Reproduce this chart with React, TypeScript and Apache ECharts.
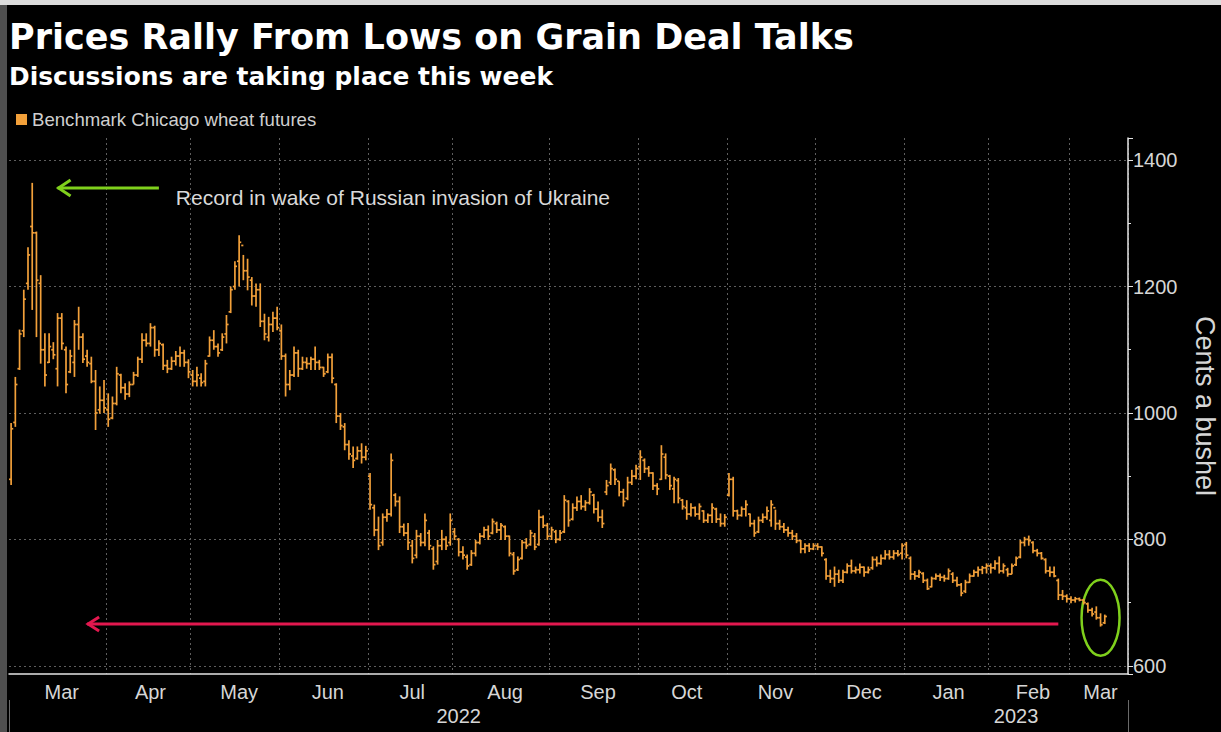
import React, { useEffect, useRef } from 'react';
import * as echarts from 'echarts';

const TITLE = 'Prices Rally From Lows on Grain Deal Talks';
const SUBTITLE = 'Discussions are taking place this week';
const SERIES_NAME = 'Benchmark Chicago wheat futures';
const Y_NAME = 'Cents a bushel';
const NOTE = 'Record in wake of Russian invasion of Ukraine';
const MONTHS = ['Jan', 'Feb', 'Mar', 'Apr', 'May', 'Jun', 'Jul', 'Aug', 'Sep', 'Oct', 'Nov', 'Dec'];

// exchange holidays skipped by the trading-day axis
const HOLIDAYS = ['2022-04-15', '2022-05-30', '2022-06-20', '2022-07-04', '2022-09-05', '2022-11-24', '2022-12-26', '2023-01-02', '2023-01-16', '2023-02-20'];

// daily bars: [open, close, low, high], cents a bushel
const mar22 = [[895, 975, 886, 984], [985, 1045, 978, 1057], [1070, 1125, 1068, 1132], [1130, 1180, 1120, 1195], [1205, 1250, 1195, 1262], [1295, 1285, 1163, 1364], [1285, 1210, 1120, 1287], [1205, 1100, 1078, 1218], [1100, 1060, 1042, 1126], [1080, 1105, 1079, 1126], [1100, 1092, 1085, 1112], [1070, 1150, 1042, 1158], [1150, 1110, 1100, 1158], [1100, 1045, 1031, 1105], [1065, 1090, 1063, 1100], [1080, 1140, 1057, 1147], [1140, 1120, 1100, 1168], [1120, 1085, 1079, 1126], [1090, 1080, 1073, 1100], [1078, 1050, 1047, 1089], [1050, 1000, 973, 1068], [1005, 1020, 999, 1042], [1020, 1008, 1000, 1052]];
const apr22 = [[1005, 990, 978, 1031], [992, 1015, 990, 1026], [1015, 1062, 1012, 1073], [1060, 1040, 1031, 1062], [1040, 1030, 1021, 1047], [1030, 1045, 1025, 1050], [1045, 1060, 1045, 1065], [1060, 1085, 1057, 1089], [1085, 1115, 1079, 1126], [1115, 1110, 1105, 1126], [1110, 1135, 1105, 1142], [1135, 1100, 1089, 1138], [1100, 1110, 1090, 1115], [1108, 1075, 1068, 1110], [1075, 1070, 1063, 1084], [1070, 1082, 1068, 1089], [1082, 1090, 1075, 1098], [1090, 1095, 1073, 1105], [1095, 1080, 1073, 1100], [1080, 1065, 1055, 1085]];
const may22 = [[1060, 1050, 1042, 1068], [1050, 1060, 1042, 1073], [1055, 1048, 1042, 1063], [1050, 1078, 1042, 1084], [1090, 1115, 1089, 1121], [1115, 1105, 1100, 1131], [1105, 1095, 1089, 1110], [1100, 1120, 1098, 1126], [1125, 1140, 1110, 1155], [1160, 1195, 1158, 1200], [1200, 1232, 1195, 1240], [1240, 1270, 1200, 1281], [1265, 1225, 1210, 1250], [1225, 1215, 1194, 1244], [1210, 1185, 1170, 1215], [1185, 1195, 1168, 1205], [1195, 1145, 1136, 1205], [1145, 1125, 1115, 1157], [1120, 1140, 1113, 1152], [1140, 1150, 1128, 1160], [1150, 1135, 1131, 1168]];
const jun22 = [[1130, 1090, 1084, 1140], [1090, 1045, 1026, 1094], [1045, 1060, 1036, 1068], [1060, 1095, 1057, 1105], [1095, 1070, 1057, 1100], [1070, 1080, 1068, 1089], [1080, 1078, 1070, 1088], [1078, 1085, 1068, 1089], [1085, 1080, 1068, 1105], [1080, 1072, 1068, 1084], [1072, 1062, 1057, 1073], [1065, 1088, 1063, 1094], [1088, 1055, 1047, 1094], [1045, 995, 984, 1047], [995, 980, 973, 1000], [978, 950, 941, 984], [950, 935, 926, 957], [932, 925, 913, 947], [928, 940, 926, 947], [940, 930, 920, 952], [930, 940, 925, 948]];
const jul22 = [[900, 855, 847, 905], [850, 815, 805, 855], [815, 790, 783, 836], [795, 835, 790, 841], [835, 840, 828, 848], [840, 925, 836, 936], [870, 860, 852, 873], [860, 820, 810, 868], [820, 810, 805, 825], [810, 795, 783, 826], [790, 770, 762, 799], [775, 805, 770, 815], [805, 795, 789, 810], [795, 830, 789, 841], [810, 790, 783, 815], [785, 760, 752, 789], [765, 790, 760, 799], [790, 800, 783, 815], [800, 790, 783, 805], [795, 830, 790, 841]];
const aug22 = [[812, 805, 799, 818], [800, 780, 773, 802], [780, 775, 768, 789], [772, 758, 752, 776], [760, 778, 758, 783], [778, 795, 773, 799], [795, 805, 792, 810], [805, 815, 802, 820], [815, 805, 799, 822], [810, 828, 808, 833], [825, 815, 810, 828], [815, 822, 799, 826], [820, 805, 799, 822], [805, 778, 773, 806], [776, 750, 744, 780], [752, 768, 750, 773], [770, 795, 768, 799], [795, 790, 785, 802], [792, 810, 790, 815], [805, 788, 783, 810], [792, 835, 790, 847], [835, 822, 818, 838], [822, 805, 799, 826]];
const sep22 = [[805, 815, 799, 820], [812, 800, 794, 815], [800, 810, 798, 815], [812, 862, 810, 870], [860, 830, 820, 862], [832, 850, 830, 857], [850, 860, 845, 868], [860, 852, 847, 870], [852, 858, 845, 862], [858, 875, 855, 881], [870, 848, 841, 872], [848, 835, 828, 860], [835, 825, 818, 847], [875, 885, 870, 894], [890, 912, 886, 920], [910, 895, 886, 912], [892, 875, 868, 892], [875, 860, 852, 880], [865, 890, 862, 899], [890, 900, 886, 910], [900, 912, 895, 918]];
const oct22 = [[915, 930, 894, 941], [925, 912, 905, 928], [912, 905, 899, 916], [905, 885, 878, 906], [885, 880, 870, 889], [895, 935, 894, 949], [930, 902, 895, 936], [900, 885, 878, 902], [880, 895, 857, 899], [893, 865, 857, 897], [862, 852, 847, 864], [850, 840, 831, 862], [840, 850, 836, 857], [850, 840, 836, 852], [840, 852, 831, 857], [845, 830, 826, 846], [830, 838, 826, 841], [838, 850, 826, 857], [848, 832, 826, 850], [832, 825, 820, 841], [825, 835, 820, 840]];
const nov22 = [[870, 895, 868, 905], [895, 845, 836, 899], [845, 838, 831, 847], [838, 848, 836, 852], [848, 855, 836, 862], [840, 825, 820, 841], [825, 810, 804, 831], [812, 830, 810, 836], [830, 835, 826, 841], [835, 845, 831, 852], [830, 855, 820, 862], [850, 825, 815, 847], [825, 820, 815, 831], [820, 815, 810, 826], [815, 810, 804, 820], [810, 805, 799, 815], [805, 798, 794, 810], [798, 785, 778, 799], [785, 790, 778, 794], [790, 785, 780, 794], [785, 790, 783, 794]];
const dec22 = [[790, 788, 783, 794], [788, 778, 773, 789], [768, 742, 736, 770], [742, 738, 731, 752], [738, 745, 725, 757], [745, 735, 731, 752], [735, 748, 731, 752], [748, 758, 746, 762], [758, 750, 746, 768], [750, 752, 746, 757], [752, 756, 746, 762], [756, 748, 741, 757], [748, 752, 746, 757], [755, 768, 752, 773], [768, 762, 757, 773], [762, 770, 760, 776], [770, 776, 768, 783], [776, 772, 768, 783], [772, 778, 768, 783], [778, 776, 773, 783], [778, 790, 768, 794]];
const jan23 = [[792, 775, 770, 796], [770, 745, 736, 773], [745, 742, 736, 750], [742, 748, 739, 752], [746, 735, 731, 748], [735, 722, 720, 738], [725, 738, 724, 741], [738, 742, 736, 746], [742, 740, 734, 746], [740, 738, 733, 744], [738, 750, 736, 754], [745, 735, 731, 748], [735, 728, 725, 741], [728, 715, 710, 731], [718, 732, 715, 736], [732, 742, 731, 746], [742, 748, 741, 752], [748, 752, 741, 757], [752, 755, 745, 758], [755, 758, 746, 762]];
const feb23 = [[758, 755, 746, 762], [755, 762, 752, 767], [762, 750, 746, 773], [750, 758, 746, 762], [752, 745, 741, 755], [745, 758, 745, 762], [760, 770, 758, 773], [772, 795, 770, 799], [795, 800, 789, 804], [800, 798, 790, 806], [795, 782, 778, 797], [782, 778, 773, 785], [778, 770, 768, 780], [768, 750, 746, 770], [750, 748, 741, 757], [748, 742, 740, 757], [735, 712, 704, 738], [712, 710, 704, 720], [710, 706, 700, 713]];
const mar23 = [[706, 704, 699, 710], [704, 706, 700, 709], [706, 704, 702, 708], [704, 700, 697, 706], [698, 688, 684, 700], [688, 682, 678, 692], [685, 676, 673, 694], [676, 665, 662, 683], [668, 678, 666, 681]];

// annotation anchors (trading-day index, cents)
const RED_ARROW = { from: 18, to: 248, level: 666 };
const GREEN_ARROW = { tip: 11, tail: 35, level: 1356 };
const NOTE_AT = { idx: 39, level: 1341 };
const CIRCLE_AT = { idx: 258, level: 676 };

const ORANGE = '#f2a03a';
const LABEL_FONT = "'Liberation Sans', Arial, sans-serif";

function buildDays(): string[] {
  const out: string[] = [];
  const d = new Date(Date.UTC(2022, 2, 1));
  const end = Date.UTC(2023, 2, 20);
  while (d.getTime() <= end) {
    const wd = d.getUTCDay();
    const s = d.toISOString().slice(0, 10);
    if (wd !== 0 && wd !== 6 && HOLIDAYS.indexOf(s) < 0) out.push(s);
    d.setUTCDate(d.getUTCDate() + 1);
  }
  return out;
}

export default function App() {
  const ref = useRef<HTMLDivElement>(null);

  useEffect(() => {
    if (!ref.current) return;
    const chart = echarts.init(ref.current, undefined, { renderer: 'svg' });
    const days = buildDays();
    const bars = [...mar22, ...apr22, ...may22, ...jun22, ...jul22, ...aug22, ...sep22, ...oct22, ...nov22, ...dec22, ...jan23, ...feb23, ...mar23];
    const data = bars.map((b, i) => [i, b[0], b[1], b[2], b[3]]);

    const monthStarts = new Set<number>();
    const monthMids = new Set<number>();
    const yearMids = new Set<number>();
    let yearStart = 0;
    let mStart = 0;
    let yStart = 0;
    for (let i = 1; i <= days.length; i++) {
      const prev = days[i - 1];
      const cur = days[i];
      if (!cur || cur.slice(0, 7) !== prev.slice(0, 7)) {
        monthMids.add(Math.round((mStart + i) / 2));
        mStart = i;
        if (cur) monthStarts.add(i);
      }
      if (!cur || cur.slice(0, 4) !== prev.slice(0, 4)) {
        yearMids.add(Math.floor((yStart + i) / 2));
        yStart = i;
        if (cur) yearStart = i;
      }
    }
    monthStarts.add(0);

    const axisColor = '#e4e4e4';
    const labelColor = '#d6d6d6';
    const gridLine = { color: '#5e5e5e', type: [2, 3] as any, width: 1 };

    chart.setOption({
      animation: false,
      backgroundColor: '#000',
      title: [
        { text: TITLE, left: -3, top: 9, textStyle: { color: '#fff', fontFamily: 'DejaVu Sans', fontWeight: 'bold', fontSize: 35 } },
        { text: SUBTITLE, left: -3, top: 54, textStyle: { color: '#fff', fontFamily: 'DejaVu Sans', fontWeight: 'bold', fontSize: 24.9 } },
      ],
      legend: {
        left: 4, top: 100, icon: 'rect', itemWidth: 11, itemHeight: 11,
        textStyle: { color: '#cfcfcf', fontSize: 18.6, fontFamily: LABEL_FONT },
        data: [SERIES_NAME],
      },
      grid: { left: 2, right: 93, top: 133, bottom: 58, outerBoundsMode: 'none', containLabel: false },
      xAxis: [
        {
          type: 'category', data: days, boundaryGap: true,
          axisLine: { lineStyle: { color: axisColor, width: 1.5 } },
          axisTick: { interval: (i: number) => monthStarts.has(i), length: 5, lineStyle: { color: axisColor } },
          axisLabel: {
            interval: (i: number) => monthMids.has(i),
            formatter: (v: string) => MONTHS[parseInt(v.slice(5, 7), 10) - 1],
            color: labelColor, fontSize: 20, fontFamily: LABEL_FONT, margin: 8,
          },
          splitLine: { show: true, interval: (i: number) => i > 0 && monthStarts.has(i), lineStyle: gridLine },
        },
        {
          type: 'category', data: days, boundaryGap: true, position: 'bottom', offset: 26,
          axisLine: { show: false },
          axisTick: { show: true, interval: (i: number) => i === yearStart, length: 32, lineStyle: { color: '#6a6a6a', width: 1 } },
          axisLabel: {
            interval: (i: number) => yearMids.has(i),
            formatter: (v: string) => v.slice(0, 4),
            color: labelColor, fontSize: 20, fontFamily: LABEL_FONT, margin: 6,
          },
          splitLine: { show: false },
        },
      ],
      yAxis: {
        type: 'value', position: 'right', min: 587, max: 1435, splitNumber: 4,
        name: Y_NAME, nameLocation: 'middle', nameRotate: -90, nameGap: 63,
        nameTextStyle: { color: labelColor, fontSize: 27, fontFamily: LABEL_FONT },
        axisLine: { show: true, lineStyle: { color: axisColor, width: 1.5 } },
        axisTick: { show: true, length: 5, lineStyle: { color: axisColor } },
        minorTick: { show: true, splitNumber: 2, length: 3, lineStyle: { color: axisColor } },
        axisLabel: {
          showMinLabel: false, showMaxLabel: false, color: labelColor, fontSize: 20, fontFamily: LABEL_FONT, margin: 5,
          formatter: (v: number) => String(v),
        },
        splitLine: { show: true, showMinLine: false, showMaxLine: false, lineStyle: gridLine },
      },
      series: [
        {
          type: 'custom', name: SERIES_NAME, xAxisIndex: 0, yAxisIndex: 0,
          itemStyle: { color: ORANGE },
          encode: { x: 0, y: [1, 2, 3, 4] },
          data,
          renderItem: (params: any, api: any) => {
            const i = api.value(0);
            const o = api.coord([i, api.value(1)]);
            const c = api.coord([i, api.value(2)]);
            const l = api.coord([i, api.value(3)]);
            const h = api.coord([i, api.value(4)]);
            const w = api.size([1, 0])[0] * 0.5;
            const style = { stroke: ORANGE, lineWidth: 1.7 };
            return {
              type: 'group',
              children: [
                { type: 'line', shape: { x1: h[0], y1: h[1], x2: l[0], y2: l[1] }, style },
                { type: 'line', shape: { x1: o[0] - w, y1: o[1], x2: o[0], y2: o[1] }, style },
                { type: 'line', shape: { x1: c[0], y1: c[1], x2: c[0] + w, y2: c[1] }, style },
              ],
            };
          },
        },
      ],
    });

    const px = (i: number, v: number) => chart.convertToPixel({ xAxisIndex: 0, yAxisIndex: 0 }, [i, v]) as number[];
    const r1 = px(RED_ARROW.from, RED_ARROW.level);
    const r2 = px(RED_ARROW.to, RED_ARROW.level);
    const g1 = px(GREEN_ARROW.tip, GREEN_ARROW.level);
    const g2 = px(GREEN_ARROW.tail, GREEN_ARROW.level);
    const t = px(NOTE_AT.idx, NOTE_AT.level);
    const e = px(CIRCLE_AT.idx, CIRCLE_AT.level);
    const RED = '#e3184f';
    const GREEN = '#7fd01c';

    chart.setOption({
      graphic: [
        { type: 'line', shape: { x1: r1[0], y1: r1[1], x2: r2[0], y2: r2[1] }, style: { stroke: RED, lineWidth: 3 } },
        { type: 'polyline', shape: { points: [[r1[0] + 12, r1[1] - 7], [r1[0] + 1, r1[1]], [r1[0] + 12, r1[1] + 7]] }, style: { stroke: RED, lineWidth: 3, fill: null } },
        { type: 'line', shape: { x1: g1[0], y1: g1[1], x2: g2[0], y2: g2[1] }, style: { stroke: GREEN, lineWidth: 3 } },
        { type: 'polyline', shape: { points: [[g1[0] + 13, g1[1] - 8], [g1[0] + 1, g1[1]], [g1[0] + 13, g1[1] + 8]] }, style: { stroke: GREEN, lineWidth: 3, fill: null } },
        { type: 'text', x: t[0], y: t[1], style: { text: NOTE, fill: '#d9d9d9', fontSize: 21, fontFamily: LABEL_FONT, verticalAlign: 'middle', align: 'left' } },
        { type: 'ellipse', shape: { cx: e[0], cy: e[1], rx: 19, ry: 38 }, style: { stroke: GREEN, lineWidth: 2.5, fill: null } },
      ],
    });

    return () => chart.dispose();
  }, []);

  return (
    <div style={{ position: 'fixed', left: 0, top: 0, width: 1221, height: 732, background: '#4f4f4f' }}>
      <div style={{ position: 'absolute', left: 0, top: 0, width: 1221, height: 5, background: '#dcdcdc' }} />
      <div ref={ref} style={{ position: 'absolute', left: 7, top: 5, width: 1214, height: 727 }} />
    </div>
  );
}
